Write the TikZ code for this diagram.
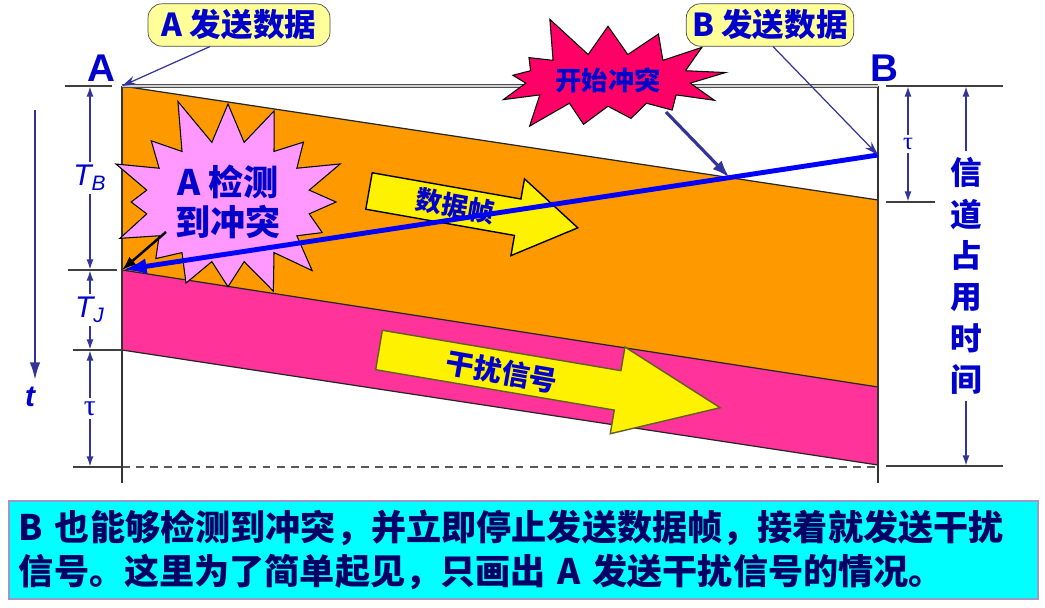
\documentclass[tikz,border=0pt]{standalone}
\usepackage{fontspec}
\setmainfont{Liberation Sans}
\newfontfamily\cjk{Noto Sans CJK SC}
\newfontfamily\taufont{Liberation Serif}
\usetikzlibrary{arrows.meta,calc,shapes.symbols}
\definecolor{ink}{HTML}{0000CC}
\definecolor{dimline}{HTML}{333399}
\definecolor{frame}{HTML}{FF9900}
\definecolor{jam}{HTML}{FF3399}
\definecolor{note}{HTML}{FFFF99}
\definecolor{clash}{HTML}{FF0066}
\definecolor{detect}{HTML}{FF99FF}
\definecolor{signal}{HTML}{0000FF}
\definecolor{banner}{HTML}{00FFFF}
\definecolor{navy}{HTML}{000066}

\begin{document}
\begin{tikzpicture}[x=0.02cm,y=-0.02cm,
    edge/.style={black!85,line width=0.7pt},
    tick/.style={black!75,line width=0.9pt},
    dim/.style={dimline,line width=1.1pt,{Latex[length=6pt,width=4pt]}-{Latex[length=6pt,width=4pt]}},
    gap/.style={fill=white,inner sep=2pt,text=ink,font=\fontsize{17}{20}\selectfont},
    callout/.style={draw=black!70,fill=note,rounded corners=8pt,minimum height=0.78cm,text=ink,font=\cjk\bfseries\fontsize{18}{20}\selectfont},
    pointer/.style={dimline,line width=0.7pt,-{Stealth[length=8pt,width=5pt]}},
    burst/.style={starburst,draw=black,line width=0.6pt,text=ink,align=center},
    fatarrow/.style={line width=0.8pt,fill=yellow},
  ]
  \useasboundingbox (0,0) rectangle (1045,608);

  % Channel (A to B)
  \coordinate (A) at (122,86);
  \coordinate (B) at (878,86);
  \coordinate (frameB) at (878,200);
  \coordinate (jamA) at (122,270);
  \coordinate (jamB) at (878,387);
  \coordinate (endA) at (122,350);
  \coordinate (endB) at (878,465);
  \coordinate (sendB) at (878,155);
  \fill[frame] (A) -- (frameB) -- (jamB) -- (jamA) -- cycle;
  \fill[jam] (jamA) -- (jamB) -- (endB) -- (endA) -- cycle;
  \draw[edge] (A) -- (frameB);
  \draw[edge] (jamA) -- (jamB);
  \draw[edge] (endA) -- (endB);
  \draw[black!65,line width=0.9pt,dash pattern=on 4.5pt off 3.5pt] (122,467) -- (878,467);
  \draw[black!80,line width=0.8pt] (A) -- (122,483);
  \draw[black!80,line width=0.8pt] (B) -- (878,483);
  \draw[black!70,line width=0.5pt,double=gray!35,double distance=1.2pt] (A) -- (B);
  \node[font=\bfseries\fontsize{22}{26}\selectfont,text=ink] (labA) at (101,68) {A};
  \node[font=\bfseries\fontsize{22}{26}\selectfont,text=ink] (labB) at (884,68) {B};

  % Time marks (left)
  \draw[tick] (65,86) -- (112,86);
  \draw[tick] (68,270) -- (117,270);
  \draw[tick] (73,350) -- (122,350);
  \draw[tick] (73,467) -- (122,467);
  \draw[dim] (90,86) -- node[gap] (tb) {\itshape T\textsubscript{B}} (90,270);
  \draw[dim] (90,270) -- node[gap] (tj) {\itshape T\textsubscript{J}} (90,350);
  \draw[dim] (90,350) -- node[gap,font=\taufont\fontsize{17}{20}\selectfont] (tauA) {τ} (90,467);
  \draw[dimline,line width=1.4pt,-{Latex[length=10pt,width=6pt]}] (35,110) -- (35,380);
  \node[font=\bfseries\itshape\fontsize{17}{20}\selectfont,text=ink] (tlab) at (30,397) {t};

  % Time marks (right)
  \draw[tick] (886,86) -- (1003,86);
  \draw[tick] (886,202) -- (935,202);
  \draw[tick] (886,466) -- (1003,466);
  \draw[dim] (908,86) -- node[gap,font=\taufont\fontsize{14}{16}\selectfont] (tauB) {τ} (908,202);
  \draw[dim] (966,86) -- node[gap,inner sep=4pt,align=center,font=\cjk\bfseries\fontsize{18}{23.5}\selectfont] (busy) {信\\道\\占\\用\\时\\间} (966,466);

  % Frame and jam arrows
  \begin{scope}[shift={(369,191)},rotate=-10]
    \draw[fatarrow,draw=black] (0,-18.5) -- (151,-18.5) -- (151,-39) -- (212,0)
      -- (151,39) -- (151,18.5) -- (0,18.5) -- cycle;
  \end{scope}
  \begin{scope}[shift={(379,350)},rotate=-9.6]
    \draw[fatarrow,draw=olive!60!black] (0,-20) -- (242,-20) -- (242,-44) -- (346,0)
      -- (242,44) -- (242,20) -- (0,20) -- cycle;
  \end{scope}
  \node[rotate=-10,text=ink,font=\cjk\bfseries\fontsize{15}{18}\selectfont] (frameText) at (455,206) {数据帧};
  \node[rotate=-10,text=ink,font=\cjk\bfseries\fontsize{16}{18}\selectfont] (jamText) at (502,372) {干扰信号};

  % A detects the collision
  \node[burst,fill=detect,minimum width=4.3cm,minimum height=3.9cm,starburst points=16,
    starburst point height=1cm,random starburst=11,
    font=\cjk\bfseries\fontsize{20}{23}\selectfont] (detA) at (228,202) {A 检测\\到冲突};
  \draw[black,line width=1.4pt,-{Latex[length=8pt,width=6pt]}] ($(detA.center)+(-62,30)$) -- (jamA);
  \draw[signal,line width=2.8pt,-{Latex[length=14pt,width=9pt]}] (sendB) -- (jamA);

  % Collision starts
  \coordinate (hit) at (intersection of A--frameB and sendB--jamA);
  \node[burst,fill=clash,minimum width=4.3cm,minimum height=2.8cm,starburst points=13,
    starburst point height=0.9cm,random starburst=5,
    font=\cjk\bfseries\fontsize{15}{18}\selectfont] (start) at (608,80) {开始冲突};
  \draw[dimline,line width=1.8pt,-{Latex[length=10pt,width=7pt]}] ($(start.center)+(58,32)$) -- (hit);

  % Callouts
  \node[callout,minimum width=3.64cm] (sendA) at (239,25) {A 发送数据};
  \node[callout,minimum width=3.1cm] (sendBnote) at (770,25) {B 发送数据};
  \draw[pointer] ($(sendA.south)+(-29,0)$) -- (A);
  \draw[pointer] ($(sendBnote.south)+(3,0)$) -- (sendB);

  % Note
  \node[draw=dimline!50,fill=banner,line width=1pt,anchor=north west,minimum height=1.96cm,
    text width=20.18cm,inner xsep=0.2cm,align=left,text=navy,
    font=\cjk\bfseries\fontsize{20}{25.5}\selectfont] (remark) at (8,500)
    {B~也能够检测到冲突，并立即停止发送数据帧，接着就发送干扰\\信号。这里为了简单起见，只画出~A~发送干扰信号的情况。};
\end{tikzpicture}
\end{document}
